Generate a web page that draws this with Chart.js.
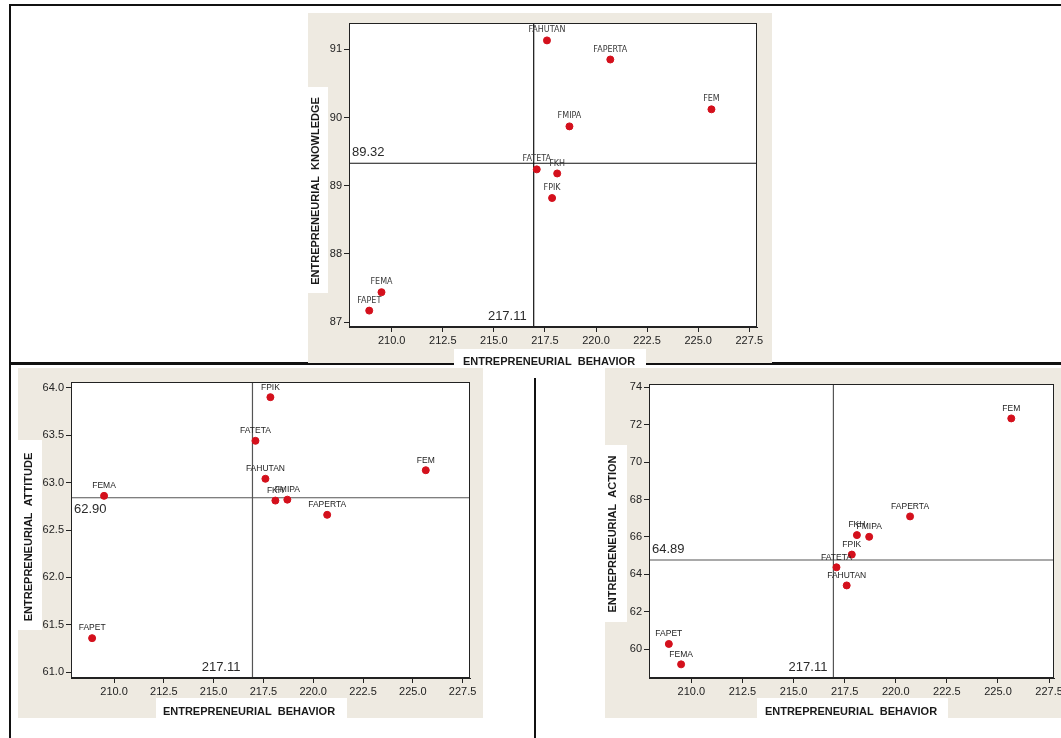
<!DOCTYPE html>
<html lang="en">
<head>
<meta charset="UTF-8">
<title>Entrepreneurial behavior quadrants</title>
<script src="https://cdn.jsdelivr.net/npm/chart.js@4.4.0/dist/chart.umd.min.js"></script>
<style>
  body { margin: 0; background: #fff; width: 1061px; height: 738px; position: relative; overflow: hidden; }
  .rule { position: absolute; background: #111; }
  .panel { position: absolute; }
  .panel canvas { display: block; }
</style>
</head>
<body>
  <div class="rule" style="left:9px;top:4px;width:1052px;height:2px"></div>
  <div class="rule" style="left:9px;top:4px;width:2px;height:734px"></div>
  <div class="rule" style="left:9px;top:362px;width:1052px;height:3px"></div>
  <div class="rule" style="left:534px;top:378px;width:2px;height:360px"></div>

  <div class="panel" style="left:308px;top:13px"><canvas id="knowledge" width="464" height="362"></canvas></div>
  <div class="panel" style="left:18px;top:368px"><canvas id="attitude" width="465" height="354"></canvas></div>
  <div class="panel" style="left:605px;top:368px"><canvas id="action" width="470" height="358"></canvas></div>

<script>
// faculties and their scores
const faculties = ['FAHUTAN', 'FAPERTA', 'FEM', 'FMIPA', 'FATETA', 'FKH', 'FPIK', 'FEMA', 'FAPET'];
const behavior  = [217.6, 220.7, 225.65, 218.7, 217.1, 218.1, 217.85, 209.5, 208.9];
const knowledge = [91.13, 90.85, 90.12, 89.87, 89.24, 89.18, 88.82, 87.44, 87.17];
const attitude  = [63.04, 62.66, 63.13, 62.82, 63.44, 62.81, 63.9, 62.86, 61.36];
const action    = [63.41, 67.10, 72.34, 66.01, 64.38, 66.10, 65.06, 59.19, 60.28];

// tick labels
const behaviorTicks  = [210, 212.5, 215, 217.5, 220, 222.5, 225, 227.5];
const knowledgeTicks = [87, 88, 89, 90, 91];
const attitudeTicks  = [61, 61.5, 62, 62.5, 63, 63.5, 64];
const actionTicks    = [60, 62, 64, 66, 68, 70, 72, 74];

// mean lines (where they are drawn) and the numbers printed next to them
const behaviorMean  = 216.95, behaviorMeanLabel  = '217.11';
const knowledgeMean = 89.33,  knowledgeMeanLabel = '89.32';
const attitudeMean  = 62.84,  attitudeMeanLabel  = '62.90';
const actionMean    = 64.77,  actionMeanLabel    = '64.89';

const BEIGE = '#eeeae1';
const RED = '#d4101c';

const quadPlugin = {
  id: 'quad',
  beforeDraw(chart, args, o) {
    const { ctx, chartArea: a } = chart;
    ctx.save();
    ctx.fillStyle = BEIGE;
    ctx.fillRect(0, 0, o.bgWidth, o.bgHeight);
    ctx.fillStyle = '#fff';
    ctx.fillRect(a.left, a.top, a.right - a.left, a.bottom - a.top);
    ctx.fillRect(...o.xTitle.box);
    ctx.fillRect(...o.yTitle.box);
    ctx.fillStyle = '#1a1a1a';
    ctx.font = 'bold 11px "Liberation Sans", Arial, sans-serif';
    ctx.textAlign = 'center';
    ctx.textBaseline = 'middle';
    ctx.fillText(o.xTitle.text, o.xTitle.cx, o.xTitle.cy);
    ctx.translate(o.yTitle.cx, o.yTitle.cy);
    ctx.rotate(-Math.PI / 2);
    ctx.fillText(o.yTitle.text, 0, 0);
    ctx.restore();
  },
  afterDatasetsDraw(chart, args, o) {
    const { ctx, chartArea: a, scales } = chart;
    ctx.save();
    ctx.strokeStyle = '#222';
    ctx.lineWidth = 1;
    ctx.strokeRect(a.left + 0.5, a.top + 0.5, a.right - a.left - 1, a.bottom - a.top - 1);

    // point labels
    const meta = chart.getDatasetMeta(0);
    ctx.fillStyle = o.labelColor;
    ctx.font = o.labelFont;
    ctx.textAlign = 'center';
    ctx.textBaseline = 'middle';
    meta.data.forEach((pt, i) => {
      ctx.fillText(faculties[i], pt.x, pt.y - 10);
    });

    // mean values
    ctx.fillStyle = '#2a2a2a';
    ctx.font = '13px "Liberation Sans", Arial, sans-serif';
    const vx = scales.x.getPixelForValue(o.xMean);
    ctx.textAlign = 'right';
    ctx.fillText(o.xMeanLabel, vx - o.xGap, a.bottom - 11);
    const hy = scales.y.getPixelForValue(o.yMean);
    ctx.textAlign = 'left';
    ctx.fillText(o.yMeanLabel, a.left + 3, hy + (o.yLabelBelow ? 12 : -11));
    ctx.restore();
  }
};

function quadChart(id, yValues, yTicks, yDigits, yMin, yMax, xMean, yMean, lineColor, opts) {
  const points = behavior.map((b, i) => ({ x: b, y: yValues[i] }));
  return new Chart(document.getElementById(id), {
    type: 'scatter',
    data: {
      datasets: [
        {
          data: points,
          backgroundColor: RED,
          borderColor: RED,
          pointRadius: 3.5,
          pointHoverRadius: 3.5,
          order: 0
        },
        {
          type: 'line',
          data: [{ x: xMean, y: yMin }, { x: xMean, y: yMax }],
          borderColor: lineColor,
          borderWidth: 1.2,
          pointRadius: 0,
          order: 1
        },
        {
          type: 'line',
          data: [{ x: 207, y: yMean }, { x: 229, y: yMean }],
          borderColor: lineColor,
          borderWidth: 1.2,
          pointRadius: 0,
          order: 1
        }
      ]
    },
    options: {
      responsive: false,
      animation: false,
      events: [],
      layout: { padding: opts.padding },
      plugins: {
        legend: { display: false },
        tooltip: { enabled: false },
        quad: opts.quad
      },
      scales: {
        x: {
          type: 'linear',
          min: opts.xMin,
          max: opts.xMax,
          afterBuildTicks: s => { s.ticks = behaviorTicks.map(v => ({ value: v })); },
          afterFit: s => { s.height = opts.xHeight; },
          ticks: {
            color: '#222',
            font: { family: '"Liberation Sans", Arial, sans-serif', size: 11 },
            padding: 2,
            maxRotation: 0,
            autoSkip: false,
            callback: v => Number(v).toFixed(1)
          },
          grid: { drawOnChartArea: false, tickLength: 5, color: '#222' },
          border: { color: '#222' }
        },
        y: {
          type: 'linear',
          min: yMin,
          max: yMax,
          afterBuildTicks: s => { s.ticks = yTicks.map(v => ({ value: v })); },
          afterFit: s => { s.width = opts.yWidth; },
          ticks: {
            color: '#222',
            font: { family: '"Liberation Sans", Arial, sans-serif', size: 11 },
            padding: 2,
            autoSkip: false,
            callback: v => Number(v).toFixed(yDigits)
          },
          grid: { drawOnChartArea: false, tickLength: 5, color: '#222' },
          border: { color: '#222' }
        }
      }
    },
    plugins: [quadPlugin]
  });
}

quadChart('knowledge', knowledge, knowledgeTicks, 0, 86.93, 91.385, behaviorMean, knowledgeMean, '#111', {
  xMin: 207.91, xMax: 227.88,
  padding: { left: 0, top: 10, right: 15, bottom: 0 },
  yWidth: 41, xHeight: 48,
  quad: {
    bgWidth: 464, bgHeight: 350,
    xTitle: { text: 'ENTREPRENEURIAL  BEHAVIOR', cx: 241, cy: 349, box: [146, 336, 192, 26] },
    yTitle: { text: 'ENTREPRENEURIAL  KNOWLEDGE', cx: 8, cy: 178, box: [0, 74, 20, 206] },
    labelFont: '8px "DejaVu Sans", sans-serif', labelColor: '#3a3a3a',
    xMean: behaviorMean, xMeanLabel: behaviorMeanLabel, xGap: 7,
    yMean: knowledgeMean, yMeanLabel: knowledgeMeanLabel, yLabelBelow: false
  }
});

quadChart('attitude', attitude, attitudeTicks, 1, 60.94, 64.06, behaviorMean, attitudeMean, '#555', {
  xMin: 207.84, xMax: 227.87,
  padding: { left: 0, top: 14, right: 13, bottom: 0 },
  yWidth: 53, xHeight: 44,
  quad: {
    bgWidth: 465, bgHeight: 350,
    xTitle: { text: 'ENTREPRENEURIAL  BEHAVIOR', cx: 231, cy: 344, box: [138, 330, 191, 24] },
    yTitle: { text: 'ENTREPRENEURIAL  ATTITUDE', cx: 11, cy: 169, box: [0, 72, 24, 190] },
    labelFont: '8.5px "Liberation Sans", Arial, sans-serif', labelColor: '#222',
    xMean: behaviorMean, xMeanLabel: behaviorMeanLabel, xGap: 12,
    yMean: attitudeMean, yMeanLabel: attitudeMeanLabel, yLabelBelow: true
  }
});

quadChart('action', action, actionTicks, 0, 58.46, 74.18, behaviorMean, actionMean, '#555', {
  xMin: 207.93, xMax: 227.74,
  padding: { left: 0, top: 16, right: 21, bottom: 0 },
  yWidth: 44, xHeight: 48,
  quad: {
    bgWidth: 470, bgHeight: 350,
    xTitle: { text: 'ENTREPRENEURIAL  BEHAVIOR', cx: 246, cy: 344, box: [152, 330, 191, 25] },
    yTitle: { text: 'ENTREPRENEURIAL  ACTION', cx: 8, cy: 166, box: [0, 77, 22, 177] },
    labelFont: '8.5px "Liberation Sans", Arial, sans-serif', labelColor: '#222',
    xMean: behaviorMean, xMeanLabel: behaviorMeanLabel, xGap: 6,
    yMean: actionMean, yMeanLabel: actionMeanLabel, yLabelBelow: false
  }
});
</script>
</body>
</html>
